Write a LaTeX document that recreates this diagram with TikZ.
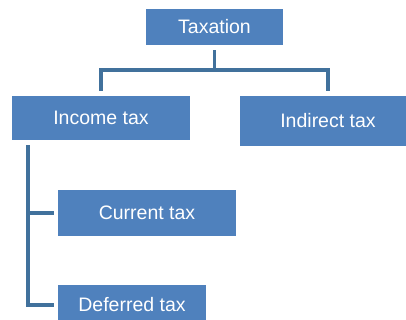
\documentclass[tikz,border=0pt]{standalone}
\usepackage{fontspec}
\setmainfont{Liberation Sans}
\definecolor{boxblue}{HTML}{4F81BD}
\definecolor{lineblue}{HTML}{41719C}
\begin{document}
\begin{tikzpicture}[x=1pt,y=1pt,
  box/.style={rectangle,fill=boxblue,draw=none,text=white,inner sep=0pt,
    font=\fontsize{19.5}{23}\selectfont},
  conn/.style={draw=lineblue,line width=3.5pt}]
\useasboundingbox (0,0) rectangle (406,320);
\clip (0,0) rectangle (406,320);
\node[box,minimum width=137pt,minimum height=36pt] (tax) at (214.5,293) {Taxation};
\node[box,minimum width=178pt,minimum height=44pt] (inc) at (101,202) {Income tax};
\node[box,minimum width=176pt,minimum height=50pt] (ind) at (328,199) {Indirect tax};
\node[box,minimum width=178pt,minimum height=46pt] (cur) at (147,107) {Current tax};
\node[box,minimum width=148pt,minimum height=40pt] (def) at (132,15) {Deferred tax};
\coordinate (hub) at ([yshift=-25pt]tax.south);
\draw[conn] ([yshift=-5pt]tax.south) -- (hub);
\draw[conn] (hub) -| ([yshift=5pt]inc.north);
\draw[conn] (hub) -| ([yshift=5pt]ind.north);
\draw[conn] ([xshift=16pt,yshift=-5pt]inc.south west) |- ([xshift=-4pt]cur.west);
\draw[conn] ([xshift=16pt,yshift=-5pt]inc.south west) |- ([xshift=-4pt]def.west);
\end{tikzpicture}
\end{document}
